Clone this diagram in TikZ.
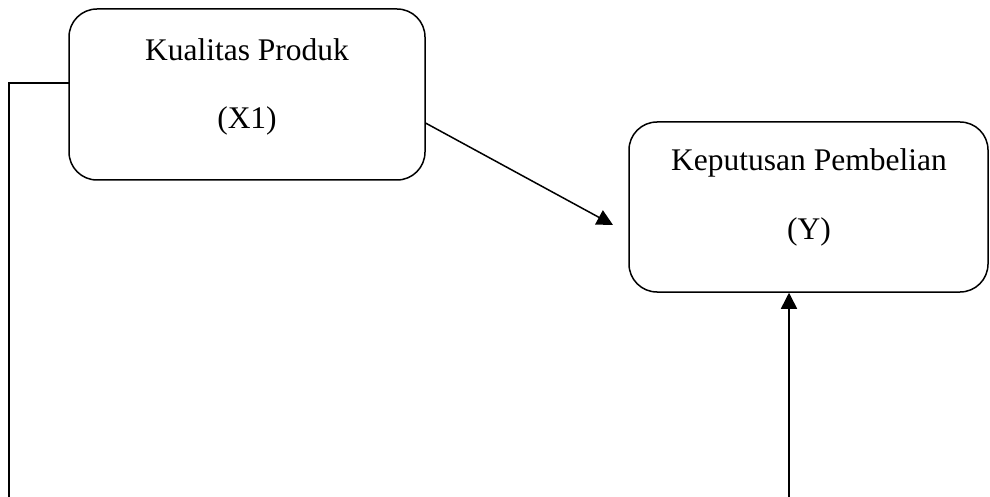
\documentclass[tikz,border=0pt]{standalone}
\usepackage{fontspec}
\setmainfont{Liberation Serif}
\usetikzlibrary{arrows.meta}
\begin{document}
\begin{tikzpicture}[x=1pt,y=-1pt, line width=1.5pt,
  box/.style={draw, rounded corners=28pt, inner sep=0pt},
  lbl/.style={font=\fontsize{31.5}{36}\selectfont, inner sep=0pt},
  arr/.style={-{Triangle[length=16pt,width=16pt]}}]
\useasboundingbox (0,0) rectangle (990,497);
\node[box, minimum width=356pt, minimum height=171pt] (x1) at (247,94.5) {};
\node[box, minimum width=359pt, minimum height=170pt] (y) at (808.5,207) {};
\node[lbl] (t1) at (247,50) {Kualitas Produk};
\node[lbl] (t2) at (247,121) {(X1)};
\node[lbl] (t3) at (809,163) {Keputusan Pembelian};
\node[lbl] (t4) at (809,232) {(Y)};
\coordinate (c1) at (69,83);
\coordinate (c2) at (9,83);
\coordinate (c3) at (9,497);
\draw (c1) -- (c2) -- (c3);
\coordinate (a1) at (425.5,123);
\coordinate (a2) at (613,225);
\draw[arr] (a1) -- (a2);
\coordinate (b1) at (789,497);
\draw[arr] (b1) -- (b1 |- y.south);
\end{tikzpicture}
\end{document}
